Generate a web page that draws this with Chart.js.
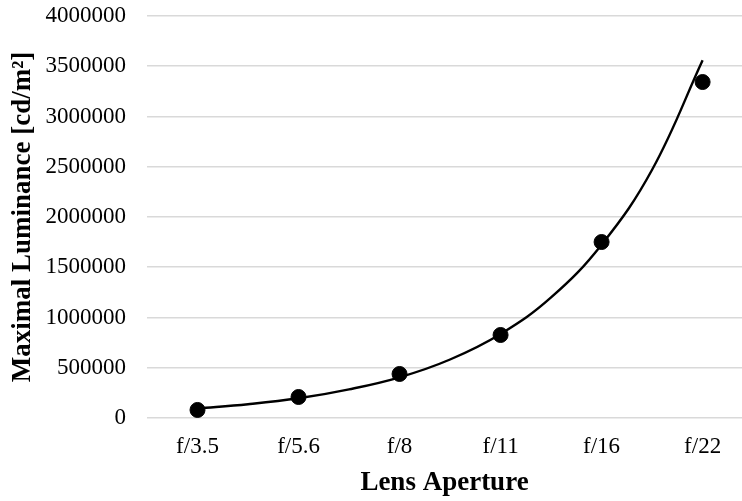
<!DOCTYPE html>
<html>
<head>
<meta charset="utf-8">
<script src="https://cdn.jsdelivr.net/npm/chart.js@4"></script>
<style>
  html, body { margin: 0; padding: 0; background: #fff; }
  #wrap { width: 742px; height: 501px; }
</style>
</head>
<body>
<div id="wrap"><canvas id="chart"></canvas></div>
<script>
// apertures along the x axis
const apertures = ['f/3.5', 'f/5.6', 'f/8', 'f/11', 'f/16', 'f/22'];
// measured maximal luminance (cd/m²)
const luminance = [80000, 209000, 438000, 826000, 1751000, 3343000];
// exponential trendline at each aperture and halfway between
const trendPos = [1, 1.5, 2, 2.5, 3, 3.5, 4, 4.5, 5, 5.5, 6];
const trend = [95000, 137000, 196000, 285000, 405000, 582000, 836000, 1200000, 1725000, 2470000, 3560000];
const yTicks = [0, 500000, 1000000, 1500000, 2000000, 2500000, 3000000, 3500000, 4000000];

const serif = 'Liberation Serif';

new Chart(document.getElementById('chart'), {
    type: 'scatter',
    data: {
        datasets: [{
            label: 'Trend',
            data: trend.map((v, i) => ({ x: trendPos[i], y: v })),
            showLine: true,
            borderColor: '#000',
            borderWidth: 2.4,
            pointRadius: 0,
            tension: 0.4,
            fill: false
        }, {
            label: 'Maximal Luminance',
            data: luminance.map((v, i) => ({ x: i + 1, y: v })),
            showLine: false,
            backgroundColor: '#000',
            borderColor: '#000',
            pointRadius: 7.5,
            pointHoverRadius: 7.5
        }]
    },
    options: {
        responsive: true,
        maintainAspectRatio: false,
        animation: false,
        layout: { autoPadding: false, padding: { top: 16, right: 0, bottom: 0, left: 0 } },
        plugins: {
            legend: { display: false },
            tooltip: { enabled: false }
        },
        scales: {
            x: {
                type: 'linear',
                min: 0.5,
                max: 6.39,
                afterBuildTicks: s => { s.ticks = apertures.map((a, i) => ({ value: i + 1 })); },
                afterFit: s => { s.height = 83; s.paddingLeft = 0; s.paddingRight = 0; },
                ticks: {
                    callback: v => apertures[v - 1],
                    color: '#000',
                    font: { family: serif, size: 23 },
                    padding: 15,
                    maxRotation: 0
                },
                grid: { display: false, drawTicks: false },
                border: { display: false },
                title: {
                    display: true,
                    text: 'Lens Aperture',
                    color: '#000',
                    font: { family: serif, size: 27, weight: 'bold' },
                    padding: { top: 0, bottom: 2 }
                }
            },
            y: {
                min: 0,
                max: 4000000,
                afterBuildTicks: s => { s.ticks = yTicks.map(v => ({ value: v })); },
                afterFit: s => { s.width = 147; s.paddingTop = 0; s.paddingBottom = 0; },
                ticks: {
                    callback: v => String(v),
                    color: '#000',
                    font: { family: serif, size: 23 },
                    padding: 21
                },
                grid: { color: '#d9d9d9', lineWidth: 1.6, drawTicks: false },
                border: { display: false },
                title: {
                    display: true,
                    text: 'Maximal Luminance [cd/m²]',
                    color: '#000',
                    font: { family: serif, size: 27, weight: 'bold' },
                    padding: { top: 7, bottom: 0 }
                }
            }
        }
    }
});
</script>
</body>
</html>
